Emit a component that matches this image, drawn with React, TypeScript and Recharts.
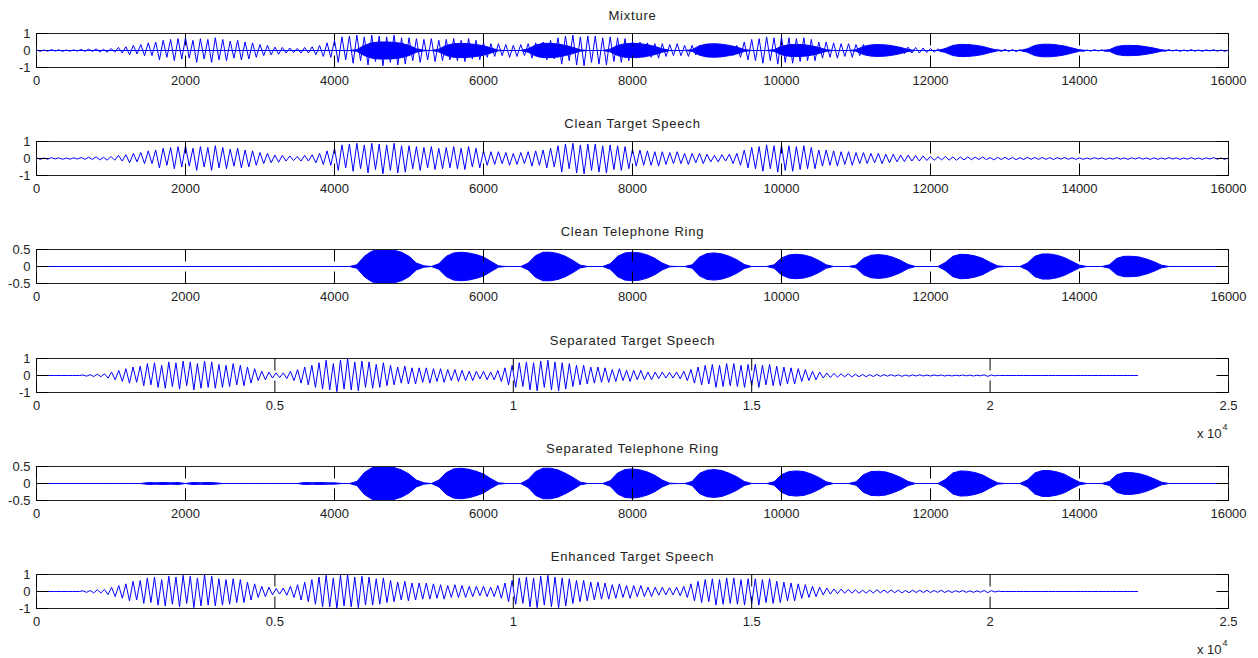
import { ComposedChart, Line, Area, XAxis, YAxis, ReferenceArea } from "recharts";

// speech waveform extrema (peak / trough in turn), one value every 50 samples
const CLEAN_SPEECH = [
  0.04, -0.05, 0.03, -0.04, 0.05, -0.03, 0.04, -0.05, 0.03, -0.04,
  0.04, -0.03, 0.06, -0.05, 0.08, -0.06, 0.1, -0.08, 0.07, -0.1,
  0.12, -0.1, 0.18, -0.15, 0.22, -0.25, 0.3, -0.2, 0.35, -0.3,
  0.45, -0.3, 0.5, -0.55, 0.6, -0.4, 0.65, -0.6, 0.7, -0.5,
  0.75, -0.45, 0.6, -0.7, 0.7, -0.5, 0.65, -0.7, 0.75, -0.55,
  0.65, -0.6, 0.55, -0.45, 0.6, -0.55, 0.5, -0.5, 0.45, -0.4,
  0.35, -0.3, 0.3, -0.25, 0.2, -0.22, 0.18, -0.15, 0.15, -0.12,
  0.12, -0.15, 0.18, -0.15, 0.22, -0.25, 0.3, -0.35, 0.45, -0.4,
  0.6, -0.7, 0.8, -0.55, 0.85, -0.75, 0.9, -0.6, 0.8, -0.85,
  0.9, -0.65, 0.85, -0.9, 0.8, -0.7, 0.9, -0.85, 0.75, -0.8,
  0.75, -0.6, 0.7, -0.7, 0.65, -0.55, 0.7, -0.65, 0.6, -0.6,
  0.65, -0.55, 0.7, -0.6, 0.6, -0.65, 0.7, -0.5, 0.6, -0.55,
  0.45, -0.4, 0.4, -0.35, 0.4, -0.3, 0.35, -0.4, 0.3, -0.35,
  0.35, -0.3, 0.4, -0.45, 0.45, -0.4, 0.5, -0.55, 0.6, -0.5,
  0.75, -0.8, 0.85, -0.6, 0.9, -0.85, 0.8, -0.9, 0.85, -0.7,
  0.85, -0.8, 0.75, -0.85, 0.8, -0.65, 0.75, -0.7, 0.7, -0.6,
  0.55, -0.45, 0.5, -0.4, 0.45, -0.4, 0.4, -0.45, 0.4, -0.35,
  0.35, -0.3, 0.4, -0.3, 0.3, -0.35, 0.3, -0.25, 0.3, -0.3,
  0.25, -0.2, 0.18, -0.2, 0.22, -0.15, 0.25, -0.3, 0.3, -0.4,
  0.5, -0.55, 0.65, -0.6, 0.7, -0.75, 0.8, -0.6, 0.75, -0.8,
  0.8, -0.7, 0.75, -0.75, 0.7, -0.65, 0.75, -0.6, 0.65, -0.6,
  0.5, -0.45, 0.5, -0.4, 0.45, -0.45, 0.4, -0.35, 0.4, -0.4,
  0.35, -0.3, 0.35, -0.3, 0.3, -0.25, 0.3, -0.3, 0.25, -0.25,
  0.25, -0.2, 0.2, -0.18, 0.2, -0.15, 0.18, -0.15, 0.15, -0.12,
  0.12, -0.1, 0.1, -0.08, 0.12, -0.1, 0.09, -0.1, 0.08, -0.08,
  0.09, -0.07, 0.08, -0.06, 0.09, -0.07, 0.06, -0.08, 0.07, -0.06,
  0.07, -0.06, 0.06, -0.07, 0.05, -0.06, 0.07, -0.05, 0.06, -0.05,
  0.06, -0.05, 0.05, -0.06, 0.05, -0.04, 0.06, -0.05, 0.04, -0.05,
  0.04, -0.05, 0.03, -0.04, 0.05, -0.03, 0.04, -0.05, 0.03, -0.04,
  0.05, -0.04, 0.03, -0.05, 0.04, -0.03, 0.05, -0.04, 0.03, -0.05,
  0.04, -0.05, 0.03, -0.04, 0.05, -0.03, 0.04, -0.05, 0.03, -0.04,
  0.05, -0.04, 0.03, -0.05, 0.04, -0.03, 0.05, -0.04, 0.03, -0.05,
  0.03,
];

// telephone ring envelope, one value every 100 samples
const RING = [
  0, 0, 0, 0, 0, 0, 0, 0, 0, 0, 0, 0, 0, 0, 0, 0, 0, 0, 0, 0,
  0, 0, 0, 0, 0, 0, 0, 0, 0, 0, 0, 0, 0, 0, 0, 0, 0, 0, 0, 0,
  0, 0, 0,
  0.05, 0.3, 0.45, 0.5, 0.5, 0.48, 0.42, 0.3, 0.1, 0.02, 0,
  0.08, 0.3, 0.4, 0.42, 0.4, 0.35, 0.28, 0.15, 0.02, 0, 0, 0,
  0.1, 0.32, 0.42, 0.42, 0.38, 0.3, 0.18, 0.04, 0, 0, 0,
  0.08, 0.3, 0.4, 0.42, 0.4, 0.34, 0.24, 0.1, 0.01, 0, 0,
  0.05, 0.28, 0.38, 0.4, 0.37, 0.3, 0.2, 0.06, 0, 0, 0,
  0.05, 0.25, 0.34, 0.36, 0.34, 0.28, 0.18, 0.05, 0, 0, 0,
  0.04, 0.24, 0.33, 0.35, 0.33, 0.27, 0.18, 0.06, 0, 0, 0, 0,
  0.12, 0.3, 0.36, 0.35, 0.31, 0.24, 0.12, 0.02, 0, 0, 0,
  0.1, 0.3, 0.37, 0.37, 0.33, 0.26, 0.15, 0.04, 0, 0, 0,
  0.05, 0.24, 0.3, 0.3, 0.28, 0.22, 0.14, 0.04,
  0, 0, 0, 0, 0, 0, 0, 0, 0,
];

const SEP_RING = [
  0, 0, 0, 0, 0, 0, 0, 0, 0, 0, 0, 0, 0, 0, 0,
  0.03, 0.02, 0.03, 0.02, 0.03, 0, 0.03, 0.02, 0.03, 0.02, 0,
  0, 0, 0, 0, 0, 0, 0, 0, 0, 0,
  0.03, 0.02, 0.03, 0.02, 0.02,
  0, 0,
  0.06, 0.32, 0.46, 0.5, 0.5, 0.47, 0.4, 0.28, 0.1, 0.02, 0,
  0.1, 0.32, 0.43, 0.45, 0.42, 0.36, 0.28, 0.14, 0.02, 0, 0, 0,
  0.12, 0.35, 0.45, 0.45, 0.4, 0.3, 0.18, 0.04, 0, 0, 0,
  0.08, 0.31, 0.41, 0.43, 0.4, 0.34, 0.24, 0.1, 0.01, 0, 0,
  0.06, 0.3, 0.39, 0.41, 0.38, 0.3, 0.2, 0.06, 0, 0, 0,
  0.05, 0.26, 0.35, 0.37, 0.35, 0.28, 0.18, 0.05, 0, 0, 0,
  0.05, 0.26, 0.35, 0.36, 0.34, 0.27, 0.18, 0.06, 0, 0, 0, 0,
  0.12, 0.31, 0.37, 0.36, 0.32, 0.25, 0.13, 0.02, 0, 0, 0,
  0.1, 0.31, 0.38, 0.38, 0.34, 0.27, 0.15, 0.04, 0, 0, 0,
  0.06, 0.26, 0.32, 0.32, 0.29, 0.23, 0.14, 0.04,
  0, 0, 0, 0, 0, 0, 0, 0, 0,
];

// separated / enhanced speech extrema, one value every 75 samples, up to 23100
const SEP_SPEECH = [
  0, 0, 0, 0, 0, 0, 0, 0, 0, 0,
  0, 0, 0, 0.03, -0.04, 0.05, -0.06, 0.08, -0.07, 0.1,
  -0.15, 0.2, -0.25, 0.3, -0.35, 0.4, -0.45, 0.5, -0.4, 0.55,
  -0.6, 0.7, -0.55, 0.75, -0.7, 0.6, -0.75, 0.8, -0.65, 0.75,
  -0.8, 0.85, -0.6, 0.8, -0.85, 0.7, -0.75, 0.85, -0.7, 0.8,
  -0.75, 0.65, -0.7, 0.6, -0.65, 0.7, -0.55, 0.6, -0.6, 0.5,
  -0.45, 0.4, -0.3, 0.25, -0.25, 0.2, -0.15, 0.15, -0.12, 0.15,
  -0.18, 0.25, -0.3, 0.35, -0.45, 0.5, -0.55, 0.6, -0.7, 0.75,
  -0.8, 0.9, -0.85, 0.7, -0.95, 0.9, -0.8, 1.0, -0.85, 0.8,
  -0.9, 0.85, -0.7, 0.8, -0.75, 0.65, -0.7, 0.75, -0.6, 0.6,
  -0.55, 0.5, -0.45, 0.55, -0.5, 0.45, -0.5, 0.45, -0.4, 0.45,
  -0.45, 0.4, -0.35, 0.4, -0.4, 0.35, -0.3, 0.35, -0.35, 0.3,
  -0.3, 0.25, -0.3, 0.25, -0.2, 0.25, -0.25, 0.2, -0.25, 0.3,
  -0.35, 0.45, -0.55, 0.6, -0.7, 0.75, -0.65, 0.8, -0.85, 0.75,
  -0.9, 0.85, -0.7, 0.9, -0.85, 0.8, -0.9, 0.75, -0.8, 0.7,
  -0.65, 0.6, -0.55, 0.6, -0.5, 0.5, -0.45, 0.5, -0.4, 0.45,
  -0.4, 0.35, -0.35, 0.4, -0.3, 0.3, -0.35, 0.3, -0.25, 0.3,
  -0.25, 0.2, -0.25, 0.2, -0.18, 0.2, -0.15, 0.18, -0.15, 0.2,
  -0.2, 0.25, -0.3, 0.35, -0.45, 0.5, -0.55, 0.6, -0.5, 0.65,
  -0.7, 0.6, -0.65, 0.7, -0.6, 0.7, -0.65, 0.6, -0.7, 0.65,
  -0.6, 0.65, -0.7, 0.6, -0.55, 0.65, -0.6, 0.55, -0.6, 0.5,
  -0.5, 0.45, -0.5, 0.4, -0.35, 0.35, -0.3, 0.25, -0.25, 0.2,
  -0.15, 0.15, -0.12, 0.12, -0.1, 0.1, -0.08, 0.1, -0.08, 0.07,
  -0.07, 0.06, -0.07, 0.05, -0.06, 0.06, -0.05, 0.05, -0.04, 0.05,
  -0.04, 0.04, -0.05, 0.03, -0.04, 0.04, -0.03, 0.04, -0.03, 0.03,
  -0.03, 0.03, -0.02, 0.03, -0.03, 0.02, -0.03, 0.02, -0.02, 0.03,
  -0.02, 0.02, -0.03, 0.02, -0.02, 0.04, -0.05, 0.03, -0.02, 0.01,
  0, 0, 0, 0, 0, 0, 0, 0, 0, 0,
  0, 0, 0, 0, 0, 0, 0, 0, 0, 0,
  0, 0, 0, 0, 0, 0, 0, 0, 0, 0,
  0, 0, 0, 0, 0, 0, 0, 0, 0,
];

const ENH_SPEECH = [
  0, 0, 0, 0, 0, 0, 0, 0, 0, 0,
  0, 0, 0, 0.04, -0.05, 0.06, -0.08, 0.1, -0.09, 0.12,
  -0.18, 0.25, -0.3, 0.35, -0.4, 0.45, -0.55, 0.6, -0.5, 0.65,
  -0.7, 0.8, -0.65, 0.85, -0.8, 0.7, -0.85, 0.9, -0.75, 0.85,
  -0.9, 0.95, -0.7, 0.9, -0.95, 0.8, -0.85, 1.0, -0.8, 0.9,
  -0.85, 0.75, -0.8, 0.7, -0.75, 0.75, -0.65, 0.7, -0.65, 0.55,
  -0.5, 0.45, -0.35, 0.3, -0.3, 0.25, -0.2, 0.18, -0.15, 0.2,
  -0.22, 0.3, -0.35, 0.4, -0.5, 0.55, -0.6, 0.7, -0.75, 0.85,
  -0.9, 0.95, -0.9, 0.8, -1.0, 0.95, -0.85, 1.0, -0.9, 0.85,
  -0.95, 0.9, -0.8, 0.85, -0.8, 0.75, -0.75, 0.8, -0.65, 0.65,
  -0.6, 0.55, -0.5, 0.6, -0.55, 0.5, -0.5, 0.5, -0.45, 0.5,
  -0.45, 0.45, -0.4, 0.4, -0.45, 0.35, -0.35, 0.4, -0.35, 0.35,
  -0.35, 0.3, -0.3, 0.3, -0.25, 0.3, -0.3, 0.25, -0.3, 0.35,
  -0.4, 0.5, -0.6, 0.65, -0.75, 0.8, -0.7, 0.85, -0.9, 0.8,
  -0.95, 0.9, -0.8, 0.95, -0.9, 0.85, -0.95, 0.8, -0.85, 0.75,
  -0.7, 0.65, -0.6, 0.65, -0.55, 0.55, -0.5, 0.55, -0.45, 0.5,
  -0.45, 0.4, -0.4, 0.45, -0.35, 0.35, -0.4, 0.35, -0.3, 0.35,
  -0.3, 0.25, -0.3, 0.25, -0.22, 0.25, -0.2, 0.22, -0.2, 0.25,
  -0.25, 0.3, -0.35, 0.45, -0.55, 0.6, -0.65, 0.7, -0.6, 0.75,
  -0.8, 0.7, -0.75, 0.8, -0.7, 0.8, -0.75, 0.7, -0.8, 0.75,
  -0.7, 0.75, -0.8, 0.7, -0.65, 0.75, -0.7, 0.6, -0.65, 0.55,
  -0.55, 0.5, -0.55, 0.45, -0.4, 0.4, -0.35, 0.3, -0.3, 0.25,
  -0.2, 0.2, -0.15, 0.15, -0.12, 0.14, -0.1, 0.12, -0.1, 0.1,
  -0.1, 0.08, -0.1, 0.08, -0.09, 0.1, -0.08, 0.08, -0.07, 0.09,
  -0.07, 0.08, -0.08, 0.06, -0.07, 0.08, -0.06, 0.07, -0.06, 0.07,
  -0.06, 0.06, -0.05, 0.07, -0.06, 0.05, -0.06, 0.05, -0.04, 0.06,
  -0.05, 0.04, -0.05, 0.04, -0.04, 0.06, -0.07, 0.05, -0.03, 0.02,
  0, 0, 0, 0, 0, 0, 0, 0, 0, 0,
  0, 0, 0, 0, 0, 0, 0, 0, 0, 0,
  0, 0, 0, 0, 0, 0, 0, 0, 0, 0,
  0, 0, 0, 0, 0, 0, 0, 0, 0,
];

const TICKS_16K = [0, 2000, 4000, 6000, 8000, 10000, 12000, 14000, 16000];
const TICKS_25K = [0, 5000, 10000, 15000, 20000, 25000];
const LABELS_25K = ["0", "0.5", "1", "1.5", "2", "2.5"];
const Y_TICKS_1 = [-1, 0, 1];
const Y_TICKS_05 = [-0.5, 0, 0.5];

const FONT = '"Liberation Sans", Arial, Helvetica, sans-serif';
const TEXT = "#222";
const BLUE = "#0000ff";
const PLOT_LEFT = 36.5;
const PLOT_W = 1192;
const PLOT_H = 34;
const TICK = 12;

const cleanRows = CLEAN_SPEECH.map((v, i) => ({ x: i * 50, s: v }));
const ringRows = RING.map((v, i) => ({ x: i * 100, r: [-v, v] }));
const sepRingRows = SEP_RING.map((v, i) => ({ x: i * 100, r: [-v, v] }));
const sepRows = SEP_SPEECH.map((v, i) => ({ x: i * 75, s: v }));
const enhRows = ENH_SPEECH.map((v, i) => ({ x: i * 75, s: v }));

function XTick(props: any) {
  const { x, y, payload, fmt } = props;
  return (
    <g>
      <line x1={x} x2={x} y1={y} y2={y - TICK} stroke="#000" />
      <line x1={x} x2={x} y1={y - PLOT_H} y2={y - PLOT_H + TICK} stroke="#000" />
      <text x={x} y={y + 17.5} textAnchor="middle" fill={TEXT} fontSize={13} fontFamily={FONT}>
        {fmt(payload.value)}
      </text>
    </g>
  );
}

function YTick(props: any) {
  const { x, y, payload } = props;
  return (
    <g>
      <line x1={x} x2={x + TICK} y1={y} y2={y} stroke="#000" />
      <line x1={x + PLOT_W - TICK} x2={x + PLOT_W} y1={y} y2={y} stroke="#000" />
      <text x={x - 6} y={y + 4.5} textAnchor="end" fill={TEXT} fontSize={13} fontFamily={FONT}>
        {String(payload.value)}
      </text>
    </g>
  );
}

function Panel(p: {
  top: number;
  title: string;
  lineData?: any[];
  areaData?: any[];
  long?: boolean;
  ringScale?: boolean;
}) {
  const xMax = p.long ? 25000 : 16000;
  const xTicks = p.long ? TICKS_25K : TICKS_16K;
  const fmt = (v: number) => (p.long ? LABELS_25K[xTicks.indexOf(v)] : String(v));
  const yMax = p.ringScale ? 0.5 : 1;
  const yTicks = p.ringScale ? Y_TICKS_05 : Y_TICKS_1;
  const overlay = !!(p.areaData && p.lineData);
  return (
    <>
      <div
        style={{
          position: "absolute",
          left: PLOT_LEFT,
          width: PLOT_W,
          top: p.top - 25,
          height: 16,
          lineHeight: "16px",
          textAlign: "center",
          fontFamily: FONT,
          fontSize: 13,
          letterSpacing: 0.8,
          color: TEXT,
        }}
      >
        {p.title}
      </div>
      <div style={{ position: "absolute", left: 0, top: p.top - 10, width: 1258, height: 74 }}>
        <ComposedChart
          width={1258}
          height={74}
          data={p.areaData ?? p.lineData}
          margin={{ top: 10.5, right: 29.5, bottom: 0, left: 0 }}
        >
          <XAxis
            dataKey="x"
            type="number"
            domain={[0, xMax]}
            ticks={xTicks}
            interval={0}
            height={29.5}
            tickSize={0}
            tickMargin={0}
            tickLine={false}
            axisLine={false}
            tick={(t: any) => <XTick {...t} fmt={fmt} />}
          />
          <YAxis
            type="number"
            domain={[-yMax, yMax]}
            ticks={yTicks}
            interval={0}
            width={PLOT_LEFT}
            tickSize={0}
            tickMargin={0}
            tickLine={false}
            axisLine={false}
            allowDataOverflow
            tick={(t: any) => <YTick {...t} />}
          />
          {p.areaData && (
            <Area
              dataKey="r"
              type="linear"
              stroke={BLUE}
              strokeWidth={1}
              fill={BLUE}
              fillOpacity={1}
              dot={false}
              activeDot={false}
              isAnimationActive={false}
            />
          )}
          {p.lineData && !p.areaData && (
            <Line
              dataKey="s"
              type="linear"
              stroke={BLUE}
              strokeWidth={1}
              dot={false}
              activeDot={false}
              isAnimationActive={false}
            />
          )}
          <ReferenceArea
            x1={0}
            x2={xMax}
            y1={-yMax}
            y2={yMax}
            fill="none"
            fillOpacity={0}
            stroke="#222"
            strokeWidth={1}
            ifOverflow="visible"
          />
        </ComposedChart>
        {overlay && (
          <div style={{ position: "absolute", left: 0, top: 0 }}>
            <ComposedChart
              width={1258}
              height={74}
              data={p.lineData}
              margin={{ top: 10.5, right: 29.5, bottom: 29.5, left: PLOT_LEFT }}
            >
              <XAxis dataKey="x" type="number" domain={[0, xMax]} hide />
              <YAxis type="number" domain={[-yMax, yMax]} hide allowDataOverflow />
              <Line
                dataKey="s"
                type="linear"
                stroke={BLUE}
                strokeWidth={1}
                dot={false}
                activeDot={false}
                isAnimationActive={false}
              />
            </ComposedChart>
          </div>
        )}
      </div>
      {p.long && (
        <>
          <div
            style={{
              position: "absolute",
              left: 1197,
              top: p.top + 80 - 12.5,
              fontFamily: FONT,
              fontSize: 13,
              lineHeight: "16px",
              color: TEXT,
              whiteSpace: "nowrap",
            }}
          >
            x 10
          </div>
          <div
            style={{
              position: "absolute",
              left: 1222.5,
              top: p.top + 71.5 - 8,
              fontFamily: FONT,
              fontSize: 9,
              lineHeight: "10px",
              color: TEXT,
            }}
          >
            4
          </div>
        </>
      )}
    </>
  );
}

export default function App() {
  return (
    <div
      style={{
        position: "absolute",
        left: 0,
        top: 0,
        width: 1258,
        height: 658,
        background: "#fff",
        overflow: "hidden",
      }}
    >
      <Panel top={33} title="Mixture" areaData={ringRows} lineData={cleanRows} />
      <Panel top={141} title="Clean Target Speech" lineData={cleanRows} />
      <Panel top={249} title="Clean Telephone Ring" areaData={ringRows} ringScale />
      <Panel top={358} title="Separated Target Speech" lineData={sepRows} long />
      <Panel top={466} title="Separated Telephone Ring" areaData={sepRingRows} ringScale />
      <Panel top={574} title="Enhanced Target Speech" lineData={enhRows} long />
    </div>
  );
}
